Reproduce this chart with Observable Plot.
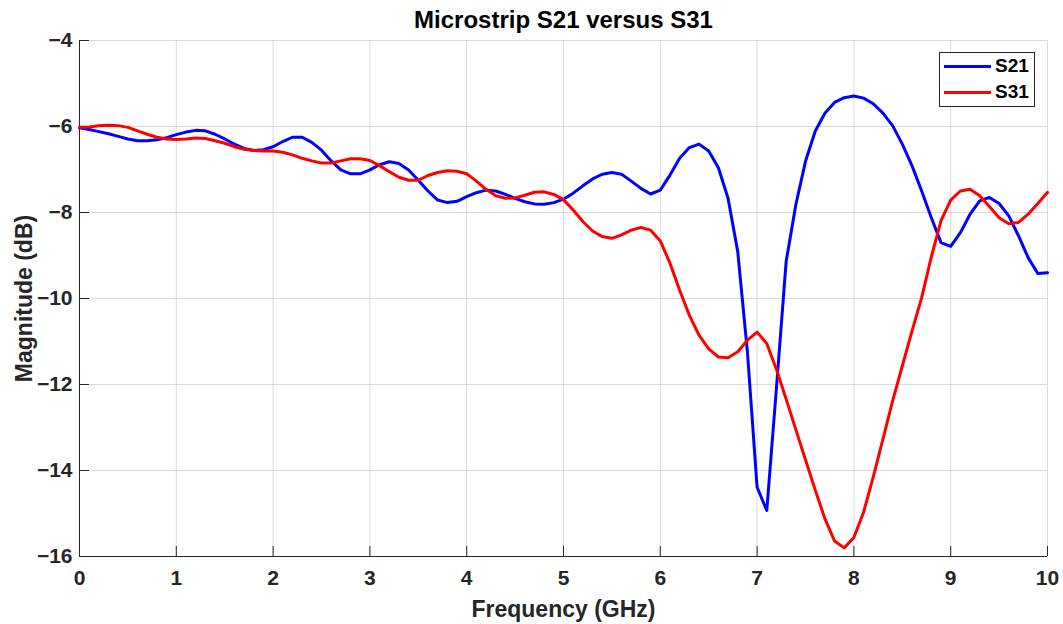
<!DOCTYPE html>
<html><head><meta charset="utf-8">
<script src="https://cdn.jsdelivr.net/npm/d3@7"></script>
<script src="https://cdn.jsdelivr.net/npm/@observablehq/plot@0.6"></script>
<style>
body{margin:0;background:#fff;font-family:"Liberation Sans",Arial,Helvetica,sans-serif;}
#wrap{position:relative;width:1063px;height:624px;}
#legend{position:absolute;left:939px;top:52px;width:96px;height:55px;box-sizing:border-box;border:1px solid #262626;background:#fff;}
.row{position:absolute;left:0;height:20px;display:flex;align-items:center;}
.sw{display:inline-block;width:47px;height:3px;margin-left:4px;margin-right:4px;}
.lab{font-weight:bold;font-size:19px;color:#000;line-height:20px;}
</style></head>
<body><div id="wrap"></div>
<script>
const title = "Microstrip S21 versus S31";
const xLabel = "Frequency (GHz)";
const yLabel = "Magnitude (dB)";
const seriesNames = ["S21", "S31"];
const seriesColors = ["#0000ff", "#ff0000"];
const xTicks = [0,1,2,3,4,5,6,7,8,9,10];
const yTicks = [-16,-14,-12,-10,-8,-6,-4];

const freq = [0,0.1,0.2,0.3,0.4,0.5,0.6,0.7,0.8,0.9,
  1,1.1,1.2,1.3,1.4,1.5,1.6,1.7,1.8,1.9,
  2,2.1,2.2,2.3,2.4,2.5,2.6,2.7,2.8,2.9,
  3,3.1,3.2,3.3,3.4,3.5,3.6,3.7,3.8,3.9,
  4,4.1,4.2,4.3,4.4,4.5,4.6,4.7,4.8,4.9,
  5,5.1,5.2,5.3,5.4,5.5,5.6,5.7,5.8,5.9,
  6,6.1,6.2,6.3,6.4,6.5,6.6,6.7,6.8,6.9,
  7,7.1,7.2,7.3,7.4,7.5,7.6,7.7,7.8,7.9,
  8,8.1,8.2,8.3,8.4,8.5,8.6,8.7,8.8,8.9,
  9,9.1,9.2,9.3,9.4,9.5,9.6,9.7,9.8,9.9,10];

const s21 = [-6.03,-6.07,-6.12,-6.17,-6.23,-6.29,-6.33,-6.33,-6.31,-6.26,
  -6.19,-6.13,-6.09,-6.10,-6.18,-6.29,-6.41,-6.51,-6.56,-6.54,
  -6.47,-6.35,-6.25,-6.25,-6.37,-6.55,-6.80,-7.01,-7.10,-7.10,
  -7.01,-6.89,-6.82,-6.86,-7.01,-7.25,-7.50,-7.71,-7.77,-7.74,
  -7.63,-7.54,-7.48,-7.50,-7.58,-7.67,-7.75,-7.80,-7.81,-7.77,
  -7.69,-7.55,-7.38,-7.22,-7.11,-7.07,-7.11,-7.27,-7.44,-7.57,
  -7.48,-7.13,-6.74,-6.49,-6.41,-6.57,-6.96,-7.67,-8.91,-11.24,
  -14.39,-14.93,-12.08,-9.14,-7.82,-6.81,-6.11,-5.69,-5.44,-5.33,
  -5.29,-5.34,-5.47,-5.69,-5.98,-6.41,-6.91,-7.50,-8.12,-8.70,
  -8.79,-8.47,-8.04,-7.73,-7.65,-7.79,-8.08,-8.54,-9.05,-9.42,-9.40];

const s31 = [-6.02,-6.01,-5.98,-5.97,-5.98,-6.02,-6.10,-6.18,-6.25,-6.29,
  -6.30,-6.29,-6.27,-6.28,-6.33,-6.39,-6.47,-6.53,-6.56,-6.57,
  -6.57,-6.60,-6.66,-6.74,-6.80,-6.85,-6.85,-6.80,-6.75,-6.75,
  -6.79,-6.91,-7.05,-7.18,-7.25,-7.25,-7.14,-7.07,-7.03,-7.04,
  -7.10,-7.27,-7.46,-7.61,-7.67,-7.66,-7.60,-7.53,-7.52,-7.58,
  -7.70,-7.94,-8.21,-8.43,-8.56,-8.60,-8.52,-8.41,-8.35,-8.41,
  -8.66,-9.18,-9.81,-10.39,-10.85,-11.17,-11.36,-11.38,-11.24,-10.97,
  -10.78,-11.05,-11.65,-12.34,-13.05,-13.75,-14.45,-15.12,-15.64,-15.80,
  -15.56,-14.97,-14.15,-13.27,-12.38,-11.57,-10.76,-9.98,-9.03,-8.19,
  -7.71,-7.50,-7.46,-7.61,-7.86,-8.12,-8.26,-8.23,-8.04,-7.79,-7.53];

const rows = [];
[s21, s31].forEach((vals, k) => vals.forEach((v, i) => rows.push({f: freq[i], v, s: seriesNames[k]})));

const W = 1063, H = 624, mT = 40, mB = 68, mL = 79, mR = 16;
const plotW = W - mL - mR, plotH = H - mT - mB;
const FONT = '"Liberation Sans", Arial, Helvetica, sans-serif';
const ink = "#262626";

const chart = Plot.plot({
  width: W, height: H,
  marginTop: mT, marginBottom: mB, marginLeft: mL, marginRight: mR,
  x: {domain: [xTicks[0], xTicks[xTicks.length - 1]]},
  y: {domain: [yTicks[0], yTicks[yTicks.length - 1]]},
  color: {domain: seriesNames, range: seriesColors},
  style: {fontFamily: FONT, background: "#fff", overflow: "visible"},
  marks: [
    Plot.gridX(xTicks, {stroke: "#000", strokeOpacity: 0.14, strokeWidth: 1}),
    Plot.gridY(yTicks, {stroke: "#000", strokeOpacity: 0.14, strokeWidth: 1}),
    Plot.ruleX(xTicks, {insetTop: plotH - 10, stroke: ink, strokeWidth: 1}),
    Plot.ruleY(yTicks, {insetRight: plotW - 10, stroke: ink, strokeWidth: 1}),
    Plot.ruleX([xTicks[0]], {stroke: ink, strokeWidth: 1}),
    Plot.ruleY([yTicks[0]], {stroke: ink, strokeWidth: 1}),
    Plot.line(rows, {x: "f", y: "v", z: "s", stroke: "s", strokeWidth: 3, strokeLinejoin: "round"}),
    Plot.axisX(xTicks, {tickSize: 0, tickPadding: 14, fontSize: 21, fontWeight: "bold", fill: ink, label: null}),
    Plot.axisY(yTicks, {tickSize: 0, tickPadding: 7, fontSize: 21, fontWeight: "bold", fill: ink, label: null}),
    Plot.text([title], {frameAnchor: "top", lineAnchor: "middle", textAnchor: "middle", dy: -20, fontSize: 24, fontWeight: "bold", fill: "#000"}),
    Plot.text([xLabel], {frameAnchor: "bottom", lineAnchor: "middle", textAnchor: "middle", dy: 53, fontSize: 23, fontWeight: "bold", fill: ink}),
    Plot.text([yLabel], {frameAnchor: "left", lineAnchor: "middle", textAnchor: "middle", dx: -55, rotate: -90, fontSize: 23, fontWeight: "bold", fill: ink})
  ]
});
const wrap = document.getElementById("wrap");
wrap.appendChild(chart);

const legend = document.createElement("div");
legend.id = "legend";
seriesNames.forEach((name, i) => {
  const row = document.createElement("div");
  row.className = "row";
  row.style.top = (3 + i * 26) + "px";
  const sw = document.createElement("span");
  sw.className = "sw";
  sw.style.background = seriesColors[i];
  const lab = document.createElement("span");
  lab.className = "lab";
  lab.textContent = name;
  row.appendChild(sw); row.appendChild(lab);
  legend.appendChild(row);
});
wrap.appendChild(legend);
</script></body></html>
